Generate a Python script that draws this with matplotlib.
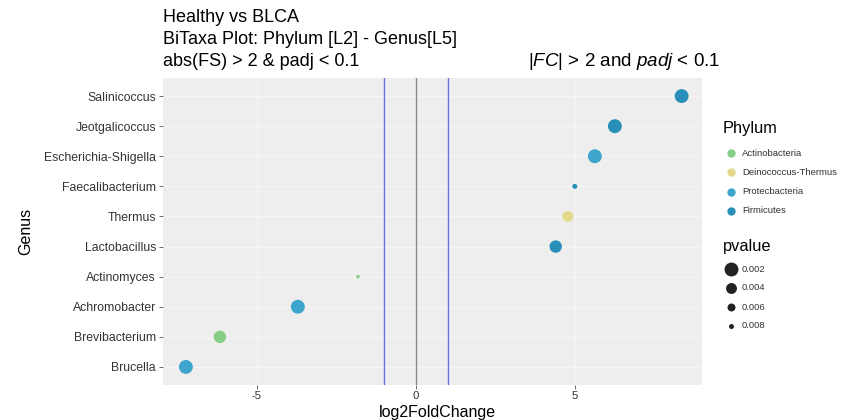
import matplotlib
matplotlib.use("Agg")
import matplotlib.pyplot as plt
from matplotlib.lines import Line2D

plt.rcParams["font.family"] = ["Liberation Sans", "DejaVu Sans"]
plt.rcParams["mathtext.fontset"] = "custom"
plt.rcParams["mathtext.rm"] = "Liberation Sans"
plt.rcParams["mathtext.it"] = "Liberation Sans:italic"

# Genera from bottom to top of the plot
genus = ["Brucella", "Brevibacterium", "Achromobacter", "Actinomyces",
         "Lactobacillus", "Thermus", "Faecalibacterium",
         "Escherichia-Shigella", "Jeotgalicoccus", "Salinicoccus"]
log2fc = [-7.23, -6.16, -3.71, -1.82, 4.40, 4.78, 5.00, 5.63, 6.26, 8.36]
pvalue = [0.002, 0.003, 0.002, 0.009, 0.003, 0.004, 0.008, 0.002, 0.002, 0.002]
phylum = ["Protecbacteria", "Actinobacteria", "Protecbacteria", "Actinobacteria",
          "Firmicutes", "Deinococcus-Thermus", "Firmicutes",
          "Protecbacteria", "Firmicutes", "Firmicutes"]

phylum_levels = ["Actinobacteria", "Deinococcus-Thermus", "Protecbacteria", "Firmicutes"]
phylum_colors = ["#86cf86", "#e2d98a", "#3ea6cc", "#2a8fb8"]
pvalue_breaks = [0.002, 0.004, 0.006, 0.008]

W, H = 854, 420


def marker_diam(p):
    # diameter in points, shrinking as p grows
    return 10.0 - (p - 0.002) / 0.006 * 6.4


def fx(px):
    return px / W


def fy(py):
    return 1 - py / H


fig = plt.figure(figsize=(8.54, 4.2), dpi=100)
ax = fig.add_axes([fx(163), fy(385), (702 - 163) / W, (385 - 78) / H])
ax.set_facecolor("#eeeeee")

ys = list(range(1, len(genus) + 1))
cmap = dict(zip(phylum_levels, phylum_colors))
ax.scatter(log2fc, ys, s=[marker_diam(p) ** 2 for p in pvalue],
           c=[cmap[ph] for ph in phylum], zorder=3, linewidths=0)

ax.axvline(-1, color="#6f6fe0", lw=1.0, zorder=2)
ax.axvline(1, color="#6f6fe0", lw=1.0, zorder=2)
ax.axvline(0, color="#888888", lw=1.0, zorder=2)

ax.set_xlim(-7.95, 9.0)
ax.set_ylim(0.4, 10.6)
ax.set_yticks(ys)
ax.set_yticklabels(genus)
ax.set_xticks([-5, 0, 5])
ax.set_xticklabels(["-5", "0", "5"])
ax.grid(True, color="#f6f6f6", lw=0.7, zorder=0)
ax.set_axisbelow(True)
for sp in ax.spines.values():
    sp.set_visible(False)
ax.tick_params(axis="both", length=3, width=0.6, color="#555555",
               labelcolor="#333333")
ax.tick_params(axis="y", labelsize=8.8, pad=2)
ax.tick_params(axis="x", labelsize=8.2, pad=1)

ax.set_xlabel("log2FoldChange", fontsize=11.5)
ax.xaxis.set_label_coords((437 - 163) / (702 - 163), -(412 - 385) / (385 - 78))
ax.xaxis.label.set_va("center")
ax.set_ylabel("Genus", fontsize=11.5, labelpad=8)

fig.text(fx(163), fy(17), "Healthy vs BLCA", fontsize=13, va="center")
fig.text(fx(163), fy(40), "BiTaxa Plot: Phylum [L2] - Genus[L5]", fontsize=13, va="center")
fig.text(fx(163), fy(62), "abs(FS) > 2 & padj < 0.1", fontsize=13, va="center")
fig.text(fx(528), fy(62), r"$|FC|$ > 2 and $padj$ < 0.1", fontsize=13.5, va="center")

# Phylum legend
fig.text(fx(723), fy(129), "Phylum", fontsize=11.8, va="center")
for i, (lab, col) in enumerate(zip(phylum_levels, phylum_colors)):
    y = fy(153 + i * 19.3)
    fig.add_artist(Line2D([fx(731)], [y], transform=fig.transFigure, marker="o",
                          ls="", color=col, markersize=6, markeredgewidth=0))
    fig.text(fx(742), y, lab, fontsize=6.8, va="center", color="#333333")

# pvalue legend
fig.text(fx(723), fy(246), "pvalue", fontsize=11.8, va="center")
for i, p in enumerate(pvalue_breaks):
    y = fy(269 + i * 19)
    fig.add_artist(Line2D([fx(731)], [y], transform=fig.transFigure, marker="o",
                          ls="", color="#222222", markersize=marker_diam(p),
                          markeredgewidth=0))
    fig.text(fx(742), y, f"{p:.3f}", fontsize=6.8, va="center", color="#333333")

fig.savefig("out.png", dpi=100)
